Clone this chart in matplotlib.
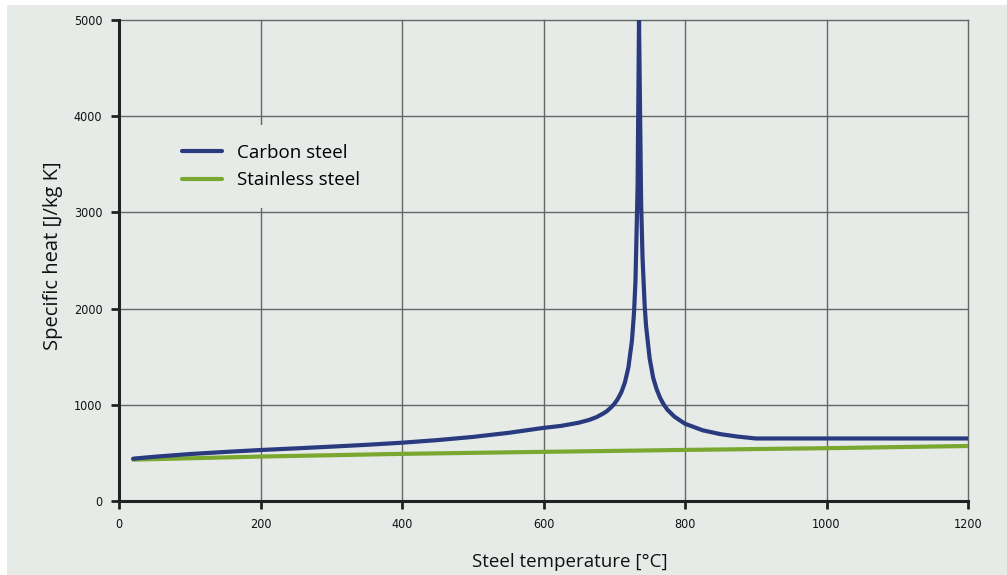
import matplotlib.pyplot as plt
import matplotlib.patches as mpatches

# values
temp_carbon = [20, 50, 100, 150, 200, 250, 300, 350, 400, 450, 500, 550, 600,
               625, 650, 665, 675, 685, 690, 695, 700, 705, 710, 715, 720, 725,
               728, 730, 733, 735, 738, 740, 743, 745, 750, 755, 760, 765, 770,
               775, 785, 800, 825, 850, 875, 900, 1200]
cp_carbon = [440, 460, 488, 510, 530, 547, 565, 584, 606, 633, 666, 708, 760,
             781, 814, 844, 872, 912, 937, 970, 1008, 1061, 1130, 1231, 1388,
             1666, 1964, 2291, 3266, 5000, 3091, 2525, 2030, 1818, 1483, 1281,
             1160, 1069, 1002, 950, 877, 803, 735, 695, 669, 650, 650]

temp_stainless = [20, 200, 400, 600, 800, 1000, 1200]
cp_stainless = [430, 462, 490, 511, 531, 549, 572]

bg = '#e6ebe8'
blue = '#2a3a7f'
green = '#7aa72f'
label_font = ['Open Sans', 'DejaVu Sans']

fig = plt.figure(figsize=(10.07, 5.75), dpi=100, facecolor='white')
# grey panel with thin white border on left/top
fig.patches.append(mpatches.Rectangle((7 / 1007, 0), 1 - 7 / 1007, 1 - 5 / 575,
                                      transform=fig.transFigure, facecolor=bg,
                                      edgecolor='none', zorder=-10))

ax = fig.add_axes([119 / 1007, 74 / 575, 849 / 1007, 481 / 575])
ax.set_facecolor(bg)

ax.plot(temp_carbon, cp_carbon, color=blue, lw=3, label='Carbon steel',
        solid_joinstyle='round', solid_capstyle='round', zorder=3)
ax.plot(temp_stainless, cp_stainless, color=green, lw=3, label='Stainless steel',
        solid_capstyle='round', zorder=2)

ax.set_xlim(0, 1200)
ax.set_ylim(0, 5000)
ax.set_xticks(range(0, 1201, 200))
ax.set_yticks(range(0, 5001, 1000))
ax.grid(True, color='#666666', lw=1)
ax.set_axisbelow(True)
for gl in ax.get_xgridlines() + ax.get_ygridlines():
    gl.set_clip_on(False)

for s in ['top', 'right']:
    ax.spines[s].set_visible(False)
for s in ['left', 'bottom']:
    ax.spines[s].set_linewidth(2.2)
    ax.spines[s].set_color('#222222')
    ax.spines[s].set_zorder(4)

ax.tick_params(axis='both', direction='out', length=6, width=2, color='#222222',
               labelsize=9)
ax.tick_params(axis='y', pad=6)
ax.tick_params(axis='x', pad=6)
for lbl in ax.get_xticklabels() + ax.get_yticklabels():
    lbl.set_family('DejaVu Sans')
    lbl.set_stretch('condensed')
    lbl.set_color('#111111')

ax.set_xlabel('Steel temperature [°C]', fontsize=13.5, family=label_font,
              color='#111111', labelpad=16)
ax.xaxis.label.set_x(0.531)
ax.set_ylabel('Specific heat [J/kg K]', fontsize=14.5, family=label_font,
              color='#111111', labelpad=8)
ax.yaxis.label.set_y(0.51)

leg = ax.legend(loc='upper left', bbox_to_anchor=(0.041, 0.801), frameon=True,
                facecolor=bg, edgecolor='none', framealpha=1, handlelength=2.15,
                handletextpad=0.8, labelspacing=0.5, borderpad=1.0,
                prop={'family': label_font, 'size': 13.5})
for h in leg.get_lines():
    h.set_linewidth(3)

fig.savefig('out.png', dpi=100, facecolor='white')
